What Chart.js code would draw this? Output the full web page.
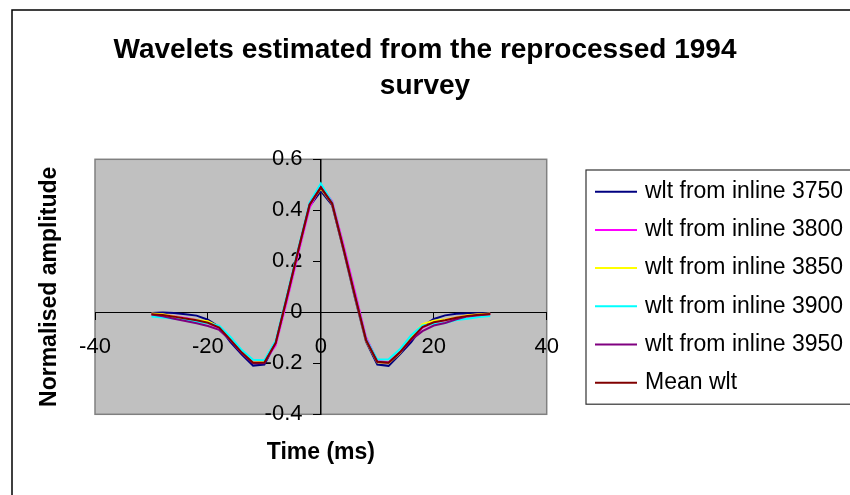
<!DOCTYPE html>
<html>
<head>
<meta charset="utf-8">
<script src="https://cdn.jsdelivr.net/npm/chart.js@4"></script>
<style>
  html, body { margin: 0; padding: 0; background: #fff; }
  #wrap { width: 850px; height: 495px; position: relative; }
</style>
</head>
<body>
<div id="wrap"><canvas id="waveletChart"></canvas></div>
<script>
// sample times in ms
const times = [-30, -28, -26, -24, -22, -20, -18, -16, -14, -12, -10, -8, -6, -4, -2, 0,
               2, 4, 6, 8, 10, 12, 14, 16, 18, 20, 22, 24, 26, 28, 30];

// normalised amplitudes
const wlt3750 = [-0.003, -0.001, -0.003, -0.008, -0.013, -0.029, -0.058, -0.117, -0.166, -0.209, -0.205,
                 -0.120, 0.060, 0.245, 0.415, 0.475, 0.420, 0.245, 0.060, -0.115, -0.205, -0.210,
                 -0.165, -0.117, -0.056, -0.026, -0.012, -0.006, -0.004, -0.004, -0.003];
const wlt3800 = [-0.006, -0.010, -0.015, -0.022, -0.030, -0.042, -0.062, -0.108, -0.158, -0.197, -0.195,
                 -0.130, 0.045, 0.230, 0.410, 0.495, 0.435, 0.265, 0.085, -0.098, -0.190, -0.197,
                 -0.158, -0.105, -0.060, -0.040, -0.030, -0.020, -0.013, -0.009, -0.006];
const wlt3850 = [-0.005, -0.008, -0.016, -0.025, -0.030, -0.035, -0.057, -0.108, -0.158, -0.197, -0.195,
                 -0.118, 0.063, 0.245, 0.425, 0.485, 0.425, 0.247, 0.065, -0.112, -0.196, -0.200,
                 -0.160, -0.100, -0.046, -0.033, -0.028, -0.020, -0.012, -0.008, -0.005];
const wlt3900 = [-0.016, -0.020, -0.025, -0.030, -0.037, -0.043, -0.052, -0.097, -0.148, -0.186, -0.188,
                 -0.112, 0.068, 0.250, 0.430, 0.505, 0.430, 0.250, 0.068, -0.105, -0.185, -0.184,
                 -0.145, -0.090, -0.052, -0.046, -0.042, -0.030, -0.025, -0.018, -0.015];
const wlt3950 = [-0.009, -0.016, -0.025, -0.034, -0.043, -0.054, -0.069, -0.110, -0.160, -0.200, -0.200,
                 -0.120, 0.060, 0.243, 0.423, 0.490, 0.425, 0.247, 0.066, -0.110, -0.195, -0.198,
                 -0.158, -0.108, -0.074, -0.052, -0.042, -0.027, -0.016, -0.012, -0.008];
const meanWlt = [-0.008, -0.011, -0.017, -0.024, -0.031, -0.041, -0.060, -0.108, -0.158, -0.198, -0.197,
                 -0.120, 0.059, 0.243, 0.421, 0.490, 0.427, 0.251, 0.069, -0.108, -0.194, -0.198,
                 -0.157, -0.104, -0.058, -0.039, -0.031, -0.021, -0.014, -0.010, -0.007];

const seriesNames = ['wlt from inline 3750', 'wlt from inline 3800', 'wlt from inline 3850',
                     'wlt from inline 3900', 'wlt from inline 3950', 'Mean wlt'];
const seriesValues = [wlt3750, wlt3800, wlt3850, wlt3900, wlt3950, meanWlt];
const seriesColors = ['#000080', '#ff00ff', '#ffff00', '#00ffff', '#800080', '#800000'];

// axis ranges and tick steps
const xRange = [-40, 40];
const xStep = 20;
const yRange = [-0.4, 0.6];
const yStep = 0.2;

const FONT = '"Liberation Sans", Arial, sans-serif';
Chart.defaults.font.family = FONT;
Chart.defaults.color = '#000';

// grey plot area and the outer chart frame
const excelFrame = {
    id: 'excelFrame',
    beforeDraw(chart) {
        const { ctx, chartArea: a } = chart;
        ctx.save();
        ctx.strokeStyle = '#000';
        ctx.lineWidth = 1.5;
        ctx.strokeRect(12, 10, 880, 520);
        ctx.fillStyle = '#c0c0c0';
        ctx.fillRect(a.left, a.top, a.width, a.height);
        ctx.strokeStyle = '#808080';
        ctx.lineWidth = 1.5;
        ctx.strokeRect(a.left, a.top, a.width, a.height);
        ctx.restore();
    }
};

// Excel style boxed legend; the built-in one gets squeezed by the centred y axis
const boxedLegend = {
    id: 'boxedLegend',
    afterDraw(chart) {
        const { ctx } = chart;
        const sets = chart.data.datasets;
        const left = 586, top = 170, rowH = 38.2, firstRow = 191.7;
        ctx.save();
        ctx.strokeStyle = '#333';
        ctx.lineWidth = 1.2;
        ctx.strokeRect(left, top, 400, firstRow - top + (sets.length - 1) * rowH + 21.5);
        ctx.font = '23px ' + FONT;
        ctx.textBaseline = 'middle';
        ctx.textAlign = 'left';
        sets.forEach((ds, i) => {
            const y = firstRow + i * rowH;
            ctx.strokeStyle = ds.borderColor;
            ctx.lineWidth = 2;
            ctx.beginPath();
            ctx.moveTo(595, y);
            ctx.lineTo(637, y);
            ctx.stroke();
            ctx.fillStyle = '#000';
            ctx.fillText(ds.label, 645, y);
        });
        ctx.restore();
    }
};

const ctx = document.getElementById('waveletChart').getContext('2d');
new Chart(ctx, {
    type: 'line',
    data: {
        datasets: seriesNames.map((name, i) => ({
            label: name,
            data: times.map((t, j) => ({ x: t, y: seriesValues[i][j] })),
            borderColor: seriesColors[i],
            backgroundColor: seriesColors[i],
            borderWidth: 2,
            pointRadius: 0,
            tension: 0,
            fill: false,
            order: seriesNames.length - 1 - i,
            xAxisID: 'x',
            yAxisID: 'y'
        }))
    },
    options: {
        responsive: true,
        maintainAspectRatio: false,
        animation: false,
        events: [],
        layout: { padding: 0 },
        plugins: {
            tooltip: { enabled: false },
            legend: { display: false },
            title: {
                display: true,
                fullSize: true,
                text: ['Wavelets estimated from the reprocessed 1994', 'survey'],
                color: '#000',
                font: { size: 28, weight: 'bold', lineHeight: 36 / 28 },
                padding: { top: 32, bottom: 55.3 }
            }
        },
        scales: {
            x: {
                type: 'linear',
                position: { y: 0 },
                min: xRange[0],
                max: xRange[1],
                ticks: { stepSize: xStep, font: { size: 22 }, color: '#000', padding: 14, maxRotation: 0 },
                grid: { display: true, drawOnChartArea: false, drawTicks: true, tickLength: 7, color: '#000' },
                border: { display: true, color: '#000', width: 1 }
            },
            y: {
                type: 'linear',
                position: { x: 0 },
                min: yRange[0],
                max: yRange[1],
                ticks: {
                    stepSize: yStep,
                    font: { size: 22 },
                    color: '#000',
                    // labels sit right-aligned on the axis line, so pad them off it
                    callback: value => String(Math.round(value * 10) / 10) + '   '
                },
                grid: { display: true, drawOnChartArea: false, drawTicks: true, tickLength: 7, color: '#000' },
                border: { display: true, color: '#000', width: 1.5 }
            },
            // the axis titles sit outside the plot, so they live on plain edge axes
            yTitle: {
                type: 'linear',
                position: 'left',
                ticks: { display: false },
                grid: { display: false, drawTicks: false },
                border: { display: false },
                title: {
                    display: true,
                    text: 'Normalised amplitude',
                    color: '#000',
                    font: { size: 23, weight: 'bold' },
                    padding: { top: 36, bottom: 0 }
                },
                afterFit: s => { s.width = 95; }
            },
            xTitle: {
                type: 'linear',
                position: 'bottom',
                ticks: { display: false },
                grid: { display: false, drawTicks: false },
                border: { display: false },
                title: {
                    display: true,
                    text: 'Time (ms)',
                    color: '#000',
                    font: { size: 23, weight: 'bold' },
                    padding: { top: 0, bottom: 29 }
                },
                afterFit: s => { s.height = 80.7; }
            },
            // empty strip on the right where the legend is drawn
            legendSpace: {
                type: 'linear',
                position: 'right',
                ticks: { display: false },
                grid: { display: false, drawTicks: false },
                border: { display: false },
                afterFit: s => { s.width = 303.3; }
            }
        }
    },
    plugins: [excelFrame, boxedLegend]
});
</script>
</body>
</html>
